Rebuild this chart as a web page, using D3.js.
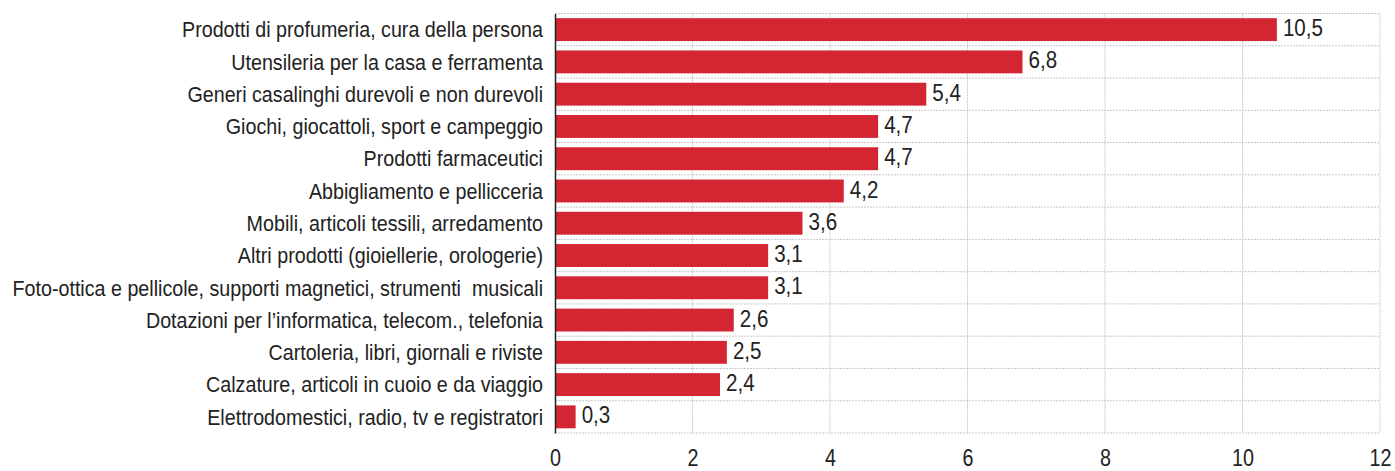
<!DOCTYPE html>
<html><head><meta charset="utf-8">
<script src="https://cdn.jsdelivr.net/npm/d3@7"></script>
<style>
body{margin:0;background:#fff;}
text{font-family:"Liberation Sans Narrow","Arial Narrow","Liberation Sans",sans-serif;fill:#222;white-space:pre;}
</style></head><body>
<svg id="c" width="1395" height="471"></svg>
<script>
const categories = [
"Prodotti di profumeria, cura della persona",
"Utensileria per la casa e ferramenta",
"Generi casalinghi durevoli e non durevoli",
"Giochi, giocattoli, sport e campeggio",
"Prodotti farmaceutici",
"Abbigliamento e pellicceria",
"Mobili, articoli tessili, arredamento",
"Altri prodotti (gioiellerie, orologerie)",
"Foto-ottica e pellicole, supporti magnetici, strumenti  musicali",
"Dotazioni per l\u2019informatica, telecom., telefonia",
"Cartoleria, libri, giornali e riviste",
"Calzature, articoli in cuoio e da viaggio",
"Elettrodomestici, radio, tv e registratori"];
const values = [10.5,6.8,5.4,4.7,4.7,4.2,3.6,3.1,3.1,2.6,2.5,2.4,0.3];
const xTicks = [0,2,4,6,8,10,12];

const svg = d3.select("#c");
const L=555, R=1380, T=13.5, B=433;
const x = d3.scaleLinear().domain([0,12]).range([L,R]);
const y = d3.scaleBand().domain(categories).range([T,B]).paddingInner(0.29).paddingOuter(0.145);
const step = y.step();

// gridlines
const g = svg.append("g");
xTicks.slice(1).forEach(t=>{
  g.append("line").attr("x1",x(t)).attr("x2",x(t)).attr("y1",T).attr("y2",B)
   .attr("stroke","#c8c8c8").attr("stroke-width",1).attr("stroke-dasharray","2,1");
});
for(let i=0;i<=categories.length;i++){
  const yy = T + i*step;
  g.append("line").attr("x1",L).attr("x2",R).attr("y1",yy).attr("y2",yy)
   .attr("stroke","#c8c8c8").attr("stroke-width",1).attr("stroke-dasharray","2,1");
}

// bars
svg.append("g").selectAll("rect").data(values).join("rect")
  .attr("x",x(0)).attr("y",(d,i)=>y(categories[i]))
  .attr("width",d=>x(d)-x(0)).attr("height",y.bandwidth())
  .attr("fill","#d42632");

// value labels (condensed)
const numSx = 0.84;
svg.append("g").selectAll("text").data(values).join("text")
  .attr("transform",(d,i)=>`translate(${x(d)+6},${y(categories[i])+18}) scale(${numSx},1)`)
  .attr("font-size",24.5).text(d=>d3.format(".1f")(d).replace(".",","));

// y axis
const yAxis = d3.axisLeft(y).tickSize(0).tickPadding(0);
const ya = svg.append("g").attr("transform",`translate(${L},0)`).call(yAxis);
ya.select(".domain").attr("stroke","#222").attr("stroke-width",1.5);
const labs = ya.selectAll("text").attr("font-size",22.5).attr("font-family",null).attr("fill","#222")
  .attr("dy",null).attr("y",7.7).style("white-space","pre");
// measure widest label and condense to target width
let maxW = 0;
labs.each(function(){ maxW = Math.max(maxW, this.getComputedTextLength()); });
const labSx = 531/maxW;
labs.attr("transform",`scale(${labSx},1)`).attr("x",-12/labSx);

// x axis
const xAxis = d3.axisBottom(x).tickValues(xTicks).tickSize(0).tickPadding(0).tickFormat(d=>d);
const xa = svg.append("g").attr("transform",`translate(0,${B})`).call(xAxis);
xa.select(".domain").remove();
xa.selectAll("text").attr("font-size",23.5).attr("font-family",null).attr("fill","#222")
  .attr("dy",null).attr("y",33.5).attr("x",0).attr("transform",`scale(${numSx},1)`);
</script>
</body></html>
